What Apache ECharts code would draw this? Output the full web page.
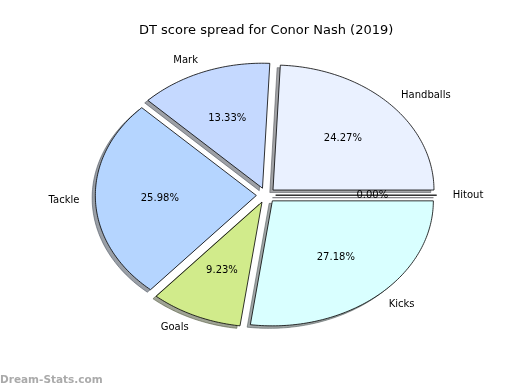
<!DOCTYPE html>
<html>
<head>
<meta charset="utf-8">
<script src="https://cdn.jsdelivr.net/npm/echarts@6/dist/echarts.min.js"></script>
<style>
html,body{margin:0;padding:0;background:#fff;}
#chart{width:520px;height:390px;}
</style>
</head>
<body>
<div id="chart"></div>
<script>
// ---- data ----
const categories = ['Hitout', 'Handballs', 'Mark', 'Tackle', 'Goals', 'Kicks'];
const values = [0, 24.27, 13.33, 25.98, 9.23, 27.18];
const sliceColors = ['#f0f0ff', '#eaf1ff', '#c5d9ff', '#b5d5ff', '#d1eb8b', '#d9ffff'];
const titleText = 'DT score spread for Conor Nash (2019)';
const watermark = 'Dream-Stats.com';

// ---- layout ----
const CX = 266, CY = 195.2, RX = 161, RY = 125;
const EXPLODE = 0.06, LABEL_DIST = 1.1, PCT_DIST = 0.6;
const SH_DX = -3.2, SH_DY = 2.5;
const FONT = '"DejaVu Sans", sans-serif';

function hexToRgb(h) {
  const n = parseInt(h.slice(1), 16);
  return [(n >> 16) & 255, (n >> 8) & 255, n & 255];
}

function renderItem(params, api) {
  const i = params.dataIndex;
  const v = api.value(0);
  const total = values.reduce((a, b) => a + b, 0);
  let start = 0;
  for (let j = 0; j < i; j++) start += values[j];
  const t1 = start / total * 360;
  const t2 = (start + v) / total * 360;
  const mid = (t1 + t2) / 2 * Math.PI / 180;
  const ox = CX + EXPLODE * RX * Math.cos(mid);
  const oy = CY - EXPLODE * RY * Math.sin(mid);
  const pts = [[ox, oy]];
  const steps = Math.max(1, Math.ceil(t2 - t1));
  for (let k = 0; k <= steps; k++) {
    const a = (t1 + (t2 - t1) * k / steps) * Math.PI / 180;
    pts.push([ox + RX * Math.cos(a), oy - RY * Math.sin(a)]);
  }
  const shPts = pts.map(p => [p[0] + SH_DX, p[1] + SH_DY]);
  const rgb = hexToRgb(sliceColors[i]);
  const shCol = 'rgba(' + Math.round(rgb[0] * 0.3) + ',' + Math.round(rgb[1] * 0.3) + ',' + Math.round(rgb[2] * 0.3) + ',0.5)';
  const cosm = Math.cos(mid), sinm = Math.sin(mid);
  const lx = ox + LABEL_DIST * RX * cosm;
  const ly = oy - LABEL_DIST * RY * sinm;
  const px = ox + PCT_DIST * RX * cosm;
  const py = oy - PCT_DIST * RY * sinm;
  const pct = (v / total * 100).toFixed(2) + '%';
  return {
    type: 'group',
    children: [
      { type: 'polygon', z2: 1, shape: { points: shPts },
        style: { fill: shCol, stroke: shCol, lineWidth: 1 } },
      { type: 'polygon', z2: 10, shape: { points: pts },
        style: { fill: sliceColors[i], stroke: '#000', lineWidth: 0.8 } },
      { type: 'text', z2: 20, x: px, y: py,
        style: { text: pct, fontSize: 10, fontFamily: FONT, fill: '#000', align: 'center', verticalAlign: 'middle' } },
      { type: 'text', z2: 20, x: lx, y: ly,
        style: { text: categories[i], fontSize: 10, fontFamily: FONT, fill: '#000',
                 align: cosm > 0 ? 'left' : 'right', verticalAlign: 'middle' } }
    ]
  };
}

const chart = echarts.init(document.getElementById('chart'), null, { renderer: 'canvas' });
chart.setOption({
  animation: false,
  backgroundColor: '#fff',
  title: {
    text: titleText,
    left: 139, top: 24, padding: 0,
    textStyle: { fontFamily: FONT, fontSize: 13, fontWeight: 'normal', color: '#000' }
  },
  graphic: [{
    type: 'text', left: 0, top: 375,
    style: { text: watermark, fontFamily: FONT, fontSize: 10.5, fontWeight: 'bold', fill: '#aaaaaa' }
  }],
  series: [{
    type: 'custom',
    coordinateSystem: 'none',
    renderItem: renderItem,
    data: values.map((v, i) => ({ name: categories[i], value: [v] }))
  }]
});
</script>
</body>
</html>
